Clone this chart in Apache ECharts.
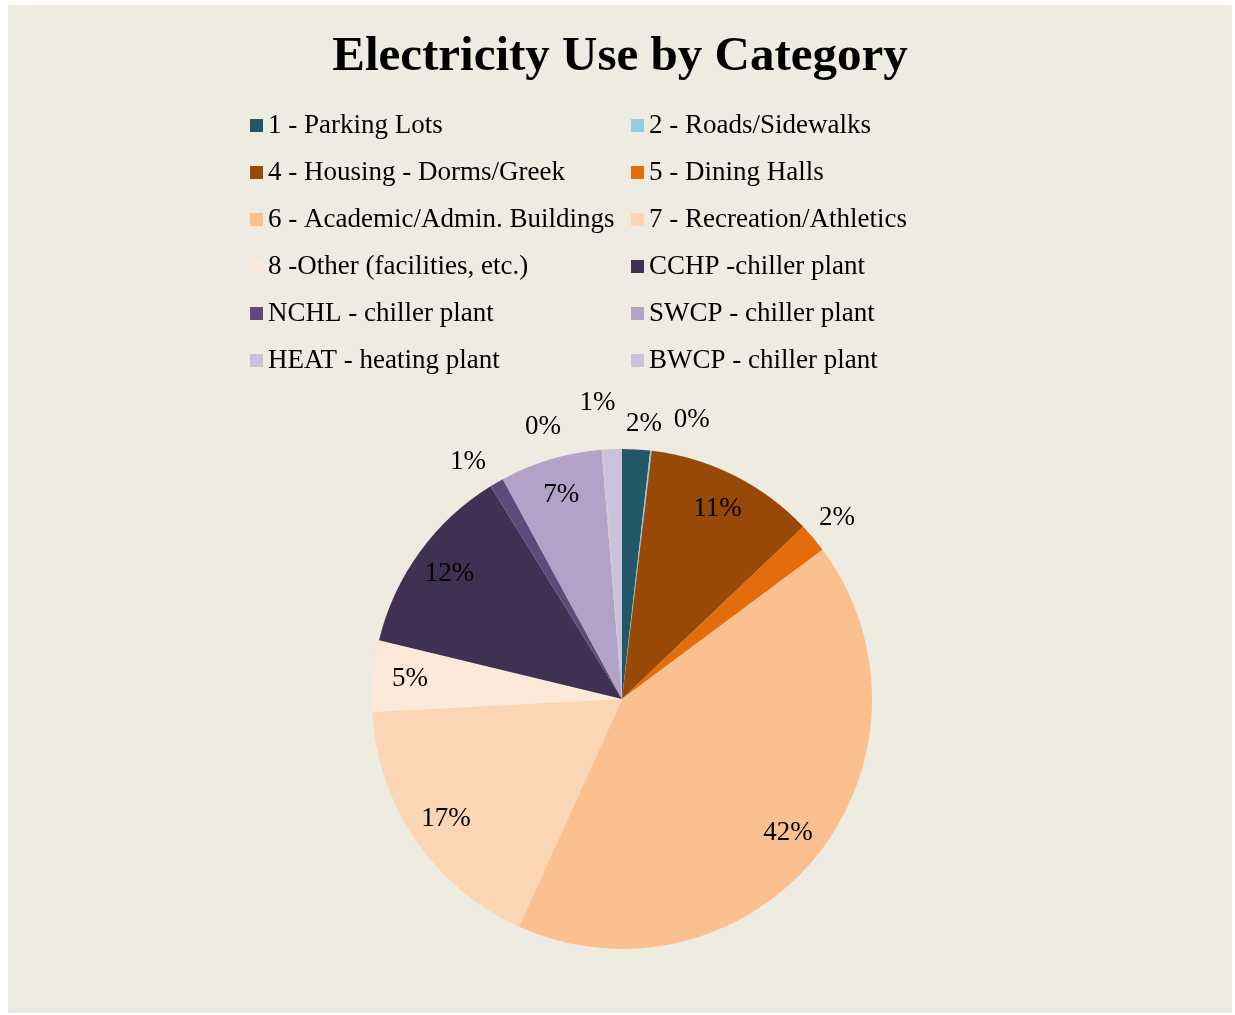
<!DOCTYPE html>
<html>
<head>
<meta charset="utf-8">
<script src="https://cdn.jsdelivr.net/npm/echarts@6/dist/echarts.min.js"></script>
<style>
  html, body { margin: 0; padding: 0; background: #ffffff; }
  #main {
    position: absolute;
    left: 8px;
    top: 5px;
    width: 1224px;
    height: 1008px;
    background: #eeebe0;
  }
</style>
</head>
<body>
<div id="main"></div>
<script>
  // categories, clockwise from 12 o'clock
  var categories = [
    '1 - Parking Lots', '2 - Roads/Sidewalks',
    '4 - Housing - Dorms/Greek', '5 - Dining Halls',
    '6 - Academic/Admin. Buildings', '7 - Recreation/Athletics',
    '8 -Other (facilities, etc.)', 'CCHP -chiller plant',
    'NCHL - chiller plant', 'SWCP - chiller plant',
    'HEAT - heating plant', 'BWCP - chiller plant'
  ];
  // share of electricity use (%)
  var shares = [1.8, 0.1, 11.0, 1.9, 41.9, 17.4, 4.6, 12.4, 0.9, 6.6, 0.1, 1.2];
  var colors = ['#215968', '#93cddd', '#984807', '#e46c0a', '#fac090', '#fcd5b5',
                '#fde9d9', '#403152', '#604a7b', '#b3a2c7', '#ccc1da', '#ccc1da'];

  // which slices get their label inside the slice
  var insideIdx = [2, 4, 5, 6, 7, 9];
  // small nudges for the outside labels
  var outsideOffset = {0: [6, 5], 1: [37, 0], 3: [0, 0], 8: [-13, 6], 10: [-57, 8], 11: [-14, -15]};

  var font = '"Liberation Serif", "DejaVu Serif", serif';
  var center = [614, 694];
  var R = 250;

  function pct(p) { return Math.round(p.percent) + '%'; }

  var myChart = echarts.init(document.getElementById('main'));

  var baseData = categories.map(function (name, i) {
    return { name: name, value: shares[i], itemStyle: { color: colors[i] } };
  });

  var insideData = categories.map(function (name, i) {
    return {
      name: name, value: shares[i],
      itemStyle: { color: 'rgba(0,0,0,0)' },
      label: { show: insideIdx.indexOf(i) >= 0 }
    };
  });

  var outsideData = categories.map(function (name, i) {
    var off = outsideOffset[i];
    return {
      name: name, value: shares[i],
      itemStyle: { color: 'rgba(0,0,0,0)' },
      label: { show: !!off, offset: off || [0, 0] }
    };
  });

  var leftNames = categories.filter(function (c, i) { return i % 2 === 0; });
  var rightNames = categories.filter(function (c, i) { return i % 2 === 1; });

  var legendBase = {
    orient: 'vertical',
    top: 102,
    itemWidth: 13,
    itemHeight: 13,
    itemGap: 20,
    icon: 'rect',
    selectedMode: false,
    textStyle: { fontFamily: font, fontSize: 27, color: '#000' }
  };

  var option = {
    color: colors,
    title: {
      text: 'Electricity Use by Category',
      left: 'center',
      top: 23,
      textStyle: { fontFamily: font, fontSize: 49, fontWeight: 'bold', color: '#000' }
    },
    legend: [
      Object.assign({}, legendBase, { left: 237, data: leftNames }),
      Object.assign({}, legendBase, { left: 618, data: rightNames })
    ],
    series: [
      {
        type: 'pie',
        center: center,
        radius: [0, R],
        startAngle: 90,
        clockwise: true,
        silent: true,
        label: { show: false },
        labelLine: { show: false },
        itemStyle: { borderWidth: 0 },
        data: baseData
      },
      {
        type: 'pie',
        center: center,
        radius: [170, R],
        startAngle: 90,
        silent: true,
        legendHoverLink: false,
        label: { position: 'inside', formatter: pct, fontFamily: font, fontSize: 27, color: '#000' },
        labelLine: { show: false },
        data: insideData
      },
      {
        type: 'pie',
        center: center,
        radius: [R, R + 56],
        startAngle: 90,
        silent: true,
        legendHoverLink: false,
        avoidLabelOverlap: false,
        label: { position: 'inside', formatter: pct, fontFamily: font, fontSize: 27, color: '#000' },
        labelLine: { show: false },
        data: outsideData
      }
    ]
  };
  myChart.setOption(option);
</script>
</body>
</html>
